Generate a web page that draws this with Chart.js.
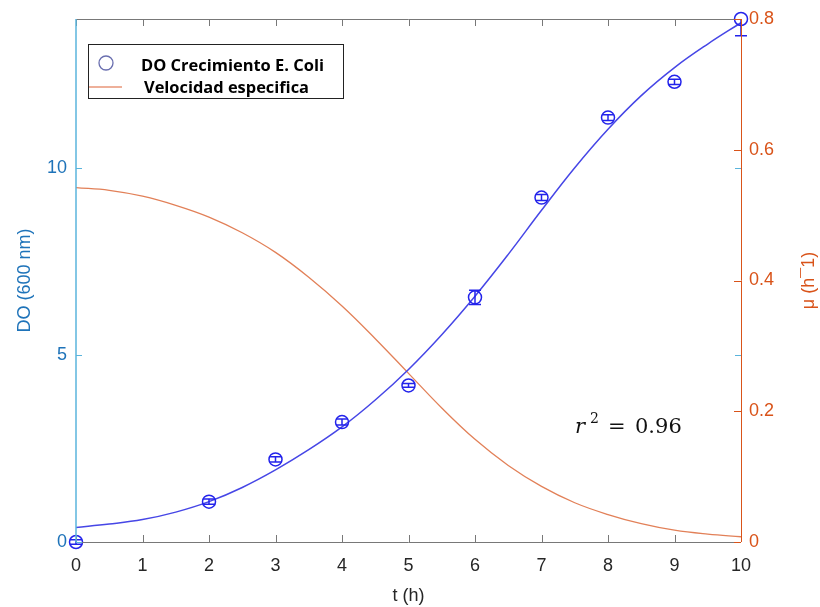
<!DOCTYPE html>
<html>
<head>
<meta charset="utf-8" />
<title>DO Crecimiento E. Coli</title>
<script src="https://cdn.jsdelivr.net/npm/chart.js@4.4.1/dist/chart.umd.min.js"></script>
<style>
  body { margin: 0; background: #fff; }
  canvas { display: block; }
</style>
</head>
<body>
<canvas id="myChart" width="820" height="607"></canvas>
<script>
// measured points (DO at 600 nm)
const tHours = [0, 2, 3, 4, 5, 6, 7, 8, 9, 10];
const doValues = [0, 1.08, 2.21, 3.21, 4.19, 6.55, 9.22, 11.36, 12.32, 14.0];
const doErrors = [0.06, 0.07, 0.07, 0.08, 0.05, 0.19, 0.08, 0.08, 0.07, 0.45];

// fitted curve and specific growth rate
const fitT = [0, 0.5, 1, 1.5, 2, 2.5, 3, 3.5, 4, 4.5, 5, 5.5, 6, 6.5, 7, 7.5, 8, 8.5, 9, 9.5, 10];
const fitDO = [0.39, 0.48, 0.60, 0.80, 1.08, 1.46, 1.93, 2.47, 3.08, 3.80, 4.62, 5.55, 6.58, 7.70, 8.88, 10.02, 11.05, 11.95, 12.70, 13.33, 13.90];
const muValues = [0.542, 0.538, 0.529, 0.515, 0.497, 0.473, 0.443, 0.405, 0.361, 0.311, 0.258, 0.205, 0.157, 0.117, 0.085, 0.060, 0.042, 0.028, 0.018, 0.012, 0.008];

const xTicks = [0, 1, 2, 3, 4, 5, 6, 7, 8, 9, 10];
const doTicks = [0, 5, 10];
const muTicks = [0, 0.2, 0.4, 0.6, 0.8];

const BLUE = "rgb(35,35,235)";
const FIT_BLUE = "rgb(70,70,230)";
const ORANGE = "rgb(226,128,88)";
const LEFT_AXIS = "rgb(90,180,220)";
const LEFT_TEXT = "rgb(30,115,185)";
const RIGHT_TEXT = "rgb(217,83,25)";
const GRAY = "rgb(120,120,120)";

Chart.defaults.font.family = "'Liberation Sans', Arial, sans-serif";

const toPts = (xs, ys) => xs.map((x, i) => ({ x: x, y: ys[i] }));

const extras = {
    id: "extras",
    afterDatasetsDraw(chart) {
        const ctx = chart.ctx;
        const xs = chart.scales.x, ys = chart.scales.y;
        const a = chart.chartArea;

        // error bars
        ctx.save();
        ctx.beginPath();
        ctx.rect(a.left - 8, a.top, a.right - a.left + 16, a.bottom - a.top + 8);
        ctx.clip();
        ctx.strokeStyle = BLUE;
        ctx.lineWidth = 1.5;
        tHours.forEach((t, i) => {
            const px = xs.getPixelForValue(t);
            const lo = ys.getPixelForValue(doValues[i] - doErrors[i]);
            const hi = ys.getPixelForValue(doValues[i] + doErrors[i]);
            ctx.beginPath();
            ctx.moveTo(px, lo); ctx.lineTo(px, hi);
            ctx.moveTo(px - 6, lo); ctx.lineTo(px + 6, lo);
            ctx.moveTo(px - 6, hi); ctx.lineTo(px + 6, hi);
            ctx.stroke();
        });
        ctx.restore();

        // r^2 label
        ctx.save();
        ctx.fillStyle = "#111";
        ctx.textBaseline = "alphabetic";
        ctx.font = "italic 21px 'DejaVu Serif', serif";
        ctx.fillText("r", 575, 433);
        ctx.font = "14px 'DejaVu Serif', serif";
        ctx.fillText("2", 590, 423);
        ctx.font = "21px 'DejaVu Serif', serif";
        ctx.fillText("=", 608, 433);
        ctx.fillText("0.96", 635, 433);
        ctx.restore();

        // legend
        ctx.save();
        ctx.fillStyle = "#fff";
        ctx.fillRect(88, 44, 255, 55);
        ctx.strokeStyle = "#222";
        ctx.lineWidth = 1;
        ctx.strokeRect(88.5, 44.5, 255, 54);
        ctx.strokeStyle = "rgb(105,110,175)";
        ctx.lineWidth = 1.3;
        ctx.beginPath();
        ctx.arc(106, 63, 7, 0, Math.PI * 2);
        ctx.stroke();
        ctx.strokeStyle = "rgb(232,150,120)";
        ctx.beginPath();
        ctx.moveTo(89, 87); ctx.lineTo(122, 87);
        ctx.stroke();
        ctx.fillStyle = "#000";
        ctx.textBaseline = "alphabetic";
        ctx.font = "bold 16px 'Open Sans', sans-serif";
        const drawFit = (txt, x, y, w) => {
            const m = ctx.measureText(txt).width;
            ctx.save();
            ctx.translate(x, y);
            ctx.scale(w / m, 1);
            ctx.fillText(txt, 0, 0);
            ctx.restore();
        };
        drawFit("DO Crecimiento E. Coli", 141, 71, 183);
        drawFit("Velocidad especifica", 144, 93, 165);
        ctx.restore();
    },
    afterDraw(chart) {
        const ctx = chart.ctx;
        const a = chart.chartArea;
        const xs = chart.scales.x, ys = chart.scales.y, ms = chart.scales.y1;
        ctx.save();
        ctx.lineWidth = 1;
        // box
        ctx.strokeStyle = GRAY;
        ctx.beginPath();
        ctx.moveTo(a.left, a.top + 0.5); ctx.lineTo(a.right, a.top + 0.5);
        ctx.moveTo(a.left, a.bottom + 0.5); ctx.lineTo(a.right, a.bottom + 0.5);
        xTicks.forEach(t => {
            const px = Math.round(xs.getPixelForValue(t)) + 0.5;
            ctx.moveTo(px, a.bottom); ctx.lineTo(px, a.bottom - 7);
            ctx.moveTo(px, a.top); ctx.lineTo(px, a.top + 7);
        });
        ctx.stroke();
        // left axis
        ctx.strokeStyle = LEFT_AXIS;
        ctx.lineWidth = 1.5;
        ctx.beginPath();
        ctx.moveTo(a.left, a.top); ctx.lineTo(a.left, a.bottom);
        ctx.stroke();
        ctx.lineWidth = 1;
        ctx.beginPath();
        doTicks.forEach(v => {
            const py = Math.round(ys.getPixelForValue(v)) + 0.5;
            ctx.moveTo(a.left, py); ctx.lineTo(a.left + 6, py);
            ctx.moveTo(a.right, py); ctx.lineTo(a.right - 6, py);
        });
        ctx.stroke();
        // right axis
        ctx.strokeStyle = RIGHT_TEXT;
        ctx.lineWidth = 1;
        ctx.beginPath();
        ctx.moveTo(a.right + 0.5, a.top); ctx.lineTo(a.right + 0.5, a.bottom);
        muTicks.forEach(v => {
            const py = Math.round(ms.getPixelForValue(v)) + 0.5;
            ctx.moveTo(a.right, py); ctx.lineTo(a.right - 7, py);
        });
        ctx.stroke();
        // right axis title, reading bottom to top like the left one
        ctx.fillStyle = RIGHT_TEXT;
        ctx.font = "18px 'Liberation Sans', Arial, sans-serif";
        ctx.textAlign = "center";
        ctx.textBaseline = "middle";
        ctx.translate(809, (a.top + a.bottom) / 2);
        ctx.rotate(-Math.PI / 2);
        ctx.fillText("μ (h¯1)", 0, 0);
        ctx.restore();
    }
};

new Chart("myChart", {
    type: "scatter",
    data: {
        datasets: [
            {
                label: "DO Crecimiento E. Coli",
                data: toPts(tHours, doValues),
                yAxisID: "y",
                pointStyle: "circle",
                pointRadius: 6.5,
                pointBorderWidth: 1.5,
                pointBorderColor: BLUE,
                pointBackgroundColor: "rgba(0,0,0,0)",
                clip: false
            },
            {
                label: "Ajuste",
                data: toPts(fitT, fitDO),
                yAxisID: "y",
                showLine: true,
                pointRadius: 0,
                borderColor: FIT_BLUE,
                borderWidth: 1.5,
                tension: 0.4
            },
            {
                label: "Velocidad especifica",
                data: toPts(fitT, muValues),
                yAxisID: "y1",
                showLine: true,
                pointRadius: 0,
                borderColor: ORANGE,
                borderWidth: 1.3,
                tension: 0.4
            }
        ]
    },
    options: {
        responsive: false,
        animation: false,
        layout: { padding: { top: 19 } },
        plugins: { legend: { display: false }, tooltip: { enabled: false } },
        scales: {
            x: {
                type: "linear",
                min: 0,
                max: 10,
                afterBuildTicks: s => { s.ticks = xTicks.map(v => ({ value: v })); },
                afterFit: s => { s.height = 65; },
                grid: { display: false },
                border: { display: false },
                ticks: { color: "#262626", font: { size: 18 }, padding: 5 },
                title: { display: true, text: "t (h)", color: "#262626", font: { size: 18 }, padding: 0 }
            },
            y: {
                position: "left",
                min: 0,
                max: 14,
                afterBuildTicks: s => { s.ticks = doTicks.map(v => ({ value: v })); },
                afterFit: s => { s.width = 76; },
                grid: { display: false },
                border: { display: false },
                ticks: { color: LEFT_TEXT, font: { size: 18 }, padding: 1 },
                title: { display: true, text: "DO (600 nm)", color: LEFT_TEXT, font: { size: 18 }, padding: { top: 14, bottom: 0 } }
            },
            y1: {
                position: "right",
                min: 0,
                max: 0.8,
                afterBuildTicks: s => { s.ticks = muTicks.map(v => ({ value: v })); },
                afterFit: s => { s.width = 79; },
                grid: { display: false },
                border: { display: false },
                ticks: { color: RIGHT_TEXT, font: { size: 18 }, padding: 0,
                         callback: v => v === 0 ? "0" : v.toFixed(1) }
            }
        }
    },
    plugins: [extras]
});
</script>
</body>
</html>
